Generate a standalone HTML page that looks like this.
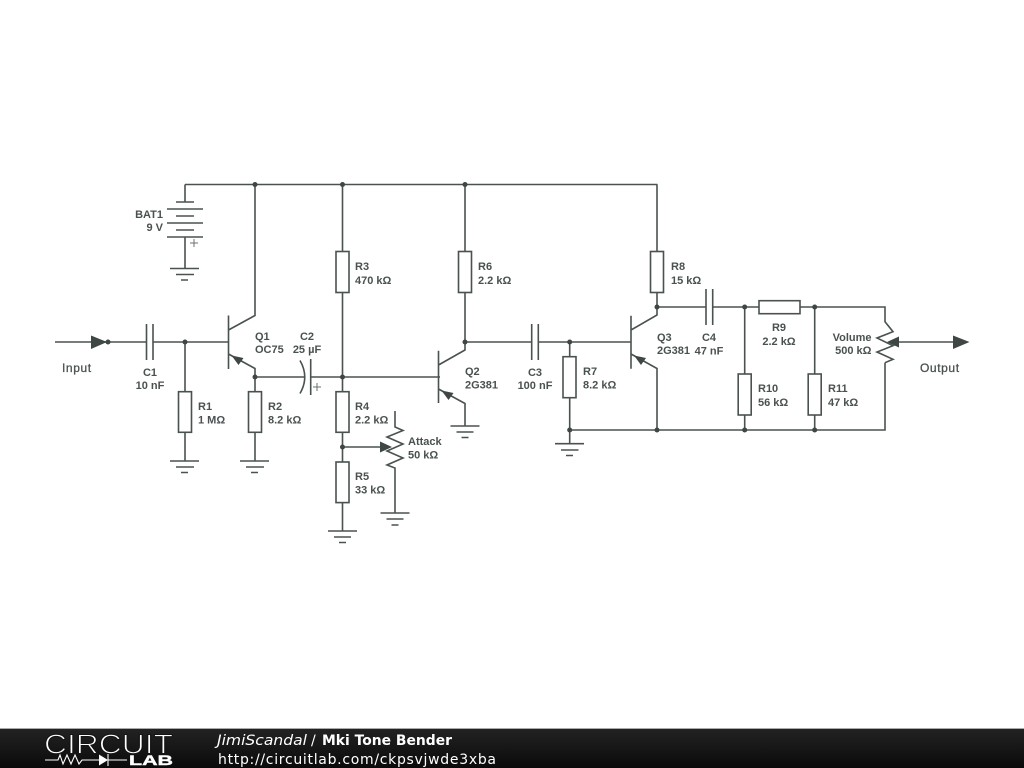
<!DOCTYPE html>
<html>
<head>
<meta charset="utf-8">
<style>
html,body{margin:0;padding:0;background:#fff;width:1024px;height:768px;overflow:hidden}
svg{display:block;position:absolute;left:0;top:0;filter:blur(.3px)}
.w{fill:none;stroke:#4a5151;stroke-width:1.6}
.h{fill:none;stroke:#6a7070;stroke-width:1}
.r{fill:#fff;stroke:#4a5151;stroke-width:1.6}
.f{fill:#3f4646}
text.t{font-family:"Liberation Sans",sans-serif;font-size:11px;font-weight:bold;fill:#4a5151}
text.p{font-family:"Liberation Sans",sans-serif;font-size:12px;letter-spacing:.6px;fill:#4a5151;stroke:#4a5151;stroke-width:.3}
text.m{text-anchor:middle}
text.e{text-anchor:end}
text.d{font-family:"DejaVu Sans",sans-serif;font-size:14px;fill:#fff}
</style>
</head>
<body>
<svg width="1024" height="768" viewBox="0 0 1024 768" xmlns="http://www.w3.org/2000/svg">
<defs>
<linearGradient id="g" x1="0" y1="0" x2="0" y2="1"><stop offset="0" stop-color="#222"/><stop offset="1" stop-color="#0a0a0a"/></linearGradient>
</defs>
<rect width="1024" height="768" fill="#fff"/>

<path class="w" d="M185 184.500H657.500M185 184.500V202M185 237V268.500
M176 202H194M167 209H203M176 216H194M167 223H203M176 230H194M167 237H203
M170 268.500H199M176 274.500H194M181 280H188"/>
<path class="h" d="M190 243H198M194 239V247M313 387H321M317 383V391"/>

<path class="w" d="M55 342H146.500M153 342H228.500M146.500 324V360M153 324V360"/>
<path class="f" d="M91 335.500L107 342L91 349Z"/>

<path class="w" d="M185 342V391.700M185 432V461M170 461H199M176 467H194M181 472.500H188"/>
<rect class="r" x="178.500" y="391.700" width="13" height="40.600"/>

<path class="w" d="M228.500 315.500V369M228.500 330L255 315.500V184.500M228.500 354L255 368.500V392M255 432V461M240 461H269M246 467H264M251 472.500H258"/>
<path class="f" d="M231.500 355.500L243.500 358L238.500 365Z"/>
<rect class="r" x="248.500" y="391.700" width="13" height="40.600"/>

<path class="w" d="M255 377H304.500M310.700 377H440M300 360.500Q309.500 377 300 393.500M310.700 359V395"/>

<path class="w" d="M342.500 184.500V251.500M342.500 292.500V392M342.500 432V462M342.500 502.500V531M328 531H357M334 537H351M339 542.500H346M342.500 447H385"/>
<rect class="r" x="336" y="251.500" width="13" height="41"/>
<rect class="r" x="336" y="391.700" width="13" height="40.600"/>
<rect class="r" x="336" y="462" width="13" height="40.600"/>

<path class="w" d="M395 411V427L403 430.500L387 437L403 444L387 451L403 458L387 465L395 468V513M380.500 513H409.500M386.500 519H403.500M391.500 525H398.500"/>
<path class="f" d="M380 441.500L392 447L380 452.500Z"/>

<path class="w" d="M438.500 350.700V403M438.500 365L465 350V292.500M465 252V184.500M438.500 389L465 403.500V426M450.500 426H479.500M456.500 432H473.500M461.500 437.500H468.500"/>
<path class="f" d="M441.500 390.500L453.500 393L448.500 400Z"/>
<rect class="r" x="458.500" y="251.500" width="13" height="41"/>

<path class="w" d="M465 342H531.700M538.300 342H631M531.700 324V360M538.300 324V360"/>
<path class="w" d="M569.700 342V356.700M569.700 397.700V443.700M555 443.700H584M561 450H578.500M566 455.500H573M569.700 430H885V362.700"/>
<rect class="r" x="563" y="356.700" width="13" height="41"/>

<path class="w" d="M631 315.700V368.700M631 330L657 315V292.500M657 252V184.500M631 354L657 368.500V430"/>
<path class="f" d="M634 355.500L646 358L641 365Z"/>
<rect class="r" x="650.500" y="251.500" width="13" height="41"/>

<path class="w" d="M657 307H706M712.700 307H759M706 289V325M712.700 289V325M800 307H885V321.700L893 331.700L877 338L893 345.700L877 352L893 359.300L885 362.700"/>
<rect class="r" x="759" y="300.700" width="41" height="13"/>

<path class="w" d="M744.700 307V374M744.700 415V430M814.700 307V374M814.700 415V430"/>
<rect class="r" x="738.200" y="374" width="13" height="41"/>
<rect class="r" x="808.200" y="374" width="13" height="41"/>

<path class="w" d="M890 342H953"/>
<path class="f" d="M887 342L899 336.500V347.500Z"/>
<path class="f" d="M953 335.500L969.500 342L953 349Z"/>

<g class="f">
<circle cx="108" cy="342" r="2.500"/><circle cx="185" cy="342" r="2.500"/><circle cx="255" cy="184.500" r="2.500"/>
<circle cx="342.500" cy="184.500" r="2.500"/><circle cx="465" cy="184.500" r="2.500"/><circle cx="255" cy="377" r="2.500"/>
<circle cx="342.500" cy="377" r="2.500"/><circle cx="342.500" cy="447" r="2.500"/><circle cx="465" cy="342" r="2.500"/>
<circle cx="569.700" cy="342" r="2.500"/><circle cx="569.700" cy="430" r="2.500"/><circle cx="657" cy="430" r="2.500"/>
<circle cx="657" cy="307" r="2.500"/><circle cx="744.700" cy="307" r="2.500"/><circle cx="814.700" cy="307" r="2.500"/>
<circle cx="744.700" cy="430" r="2.500"/><circle cx="814.700" cy="430" r="2.500"/>
</g>

<text class="t e" x="163" y="218">BAT1</text><text class="t e" x="163" y="231">9 V</text>
<text class="p" x="62" y="372">Input</text>
<text class="t m" x="150" y="376">C1</text><text class="t m" x="150" y="389">10 nF</text>
<text class="t" x="255" y="340">Q1</text><text class="t" x="255" y="353">OC75</text>
<text class="t m" x="307" y="340">C2</text><text class="t m" x="307" y="353">25 µF</text>
<text class="t" x="198" y="410">R1</text><text class="t" x="198" y="423.500">1 MΩ</text>
<text class="t" x="268" y="410">R2</text><text class="t" x="268" y="423.500">8.2 kΩ</text>
<text class="t" x="355" y="270">R3</text><text class="t" x="355" y="284">470 kΩ</text>
<text class="t" x="355" y="410">R4</text><text class="t" x="355" y="423.500">2.2 kΩ</text>
<text class="t" x="355" y="480">R5</text><text class="t" x="355" y="493.500">33 kΩ</text>
<text class="t" x="408" y="445">Attack</text><text class="t" x="408" y="458.500">50 kΩ</text>
<text class="t" x="478" y="270">R6</text><text class="t" x="478" y="284">2.2 kΩ</text>
<text class="t" x="465" y="375">Q2</text><text class="t" x="465" y="388.500">2G381</text>
<text class="t m" x="535" y="376">C3</text><text class="t m" x="535" y="389">100 nF</text>
<text class="t" x="583" y="375">R7</text><text class="t" x="583" y="388.500">8.2 kΩ</text>
<text class="t" x="671" y="270">R8</text><text class="t" x="671" y="284">15 kΩ</text>
<text class="t" x="657" y="341">Q3</text><text class="t" x="657" y="354">2G381</text>
<text class="t m" x="709" y="341">C4</text><text class="t m" x="709" y="354.500">47 nF</text>
<text class="t m" x="779" y="331">R9</text><text class="t m" x="779" y="345">2.2 kΩ</text>
<text class="t" x="758" y="392">R10</text><text class="t" x="758" y="406">56 kΩ</text>
<text class="t" x="828" y="392">R11</text><text class="t" x="828" y="406">47 kΩ</text>
<text class="t e" x="871.500" y="341">Volume</text><text class="t e" x="871.500" y="354">500 kΩ</text>
<text class="p" x="920" y="372">Output</text>

<rect x="0" y="729" width="1024" height="39" fill="url(#g)"/>
<rect x="0" y="728" width="1024" height="1" fill="#aaa"/>
<text x="44" y="753.500" font-family="Liberation Sans, sans-serif" font-size="28" fill="#fff" stroke="#151515" stroke-width="1.100" textLength="129" lengthAdjust="spacingAndGlyphs">CIRCUIT</text>
<path d="M45 760H58L60 755L63 764L67 755L71 764L75 755L79 764L82 760H99M108 760H127M108 754V766" fill="none" stroke="#fff" stroke-width="1.100"/>
<path d="M99 754.500L108 760L99 765.500Z" fill="#fff"/>
<text x="129" y="765" font-family="Liberation Sans, sans-serif" font-size="14" font-weight="bold" fill="#fff" stroke="#fff" stroke-width=".4" textLength="44" lengthAdjust="spacingAndGlyphs">LAB</text>
<text class="d" x="217" y="745" font-style="italic" textLength="90" lengthAdjust="spacingAndGlyphs">JimiScandal</text>
<text class="d" x="311" y="745">/</text>
<text class="d" x="322" y="745" font-weight="bold" textLength="130" lengthAdjust="spacingAndGlyphs">Mki Tone Bender</text>
<text class="d" x="218" y="764" textLength="278">http://circuitlab.com/ckpsvjwde3xba</text>
</svg>
</body>
</html>
